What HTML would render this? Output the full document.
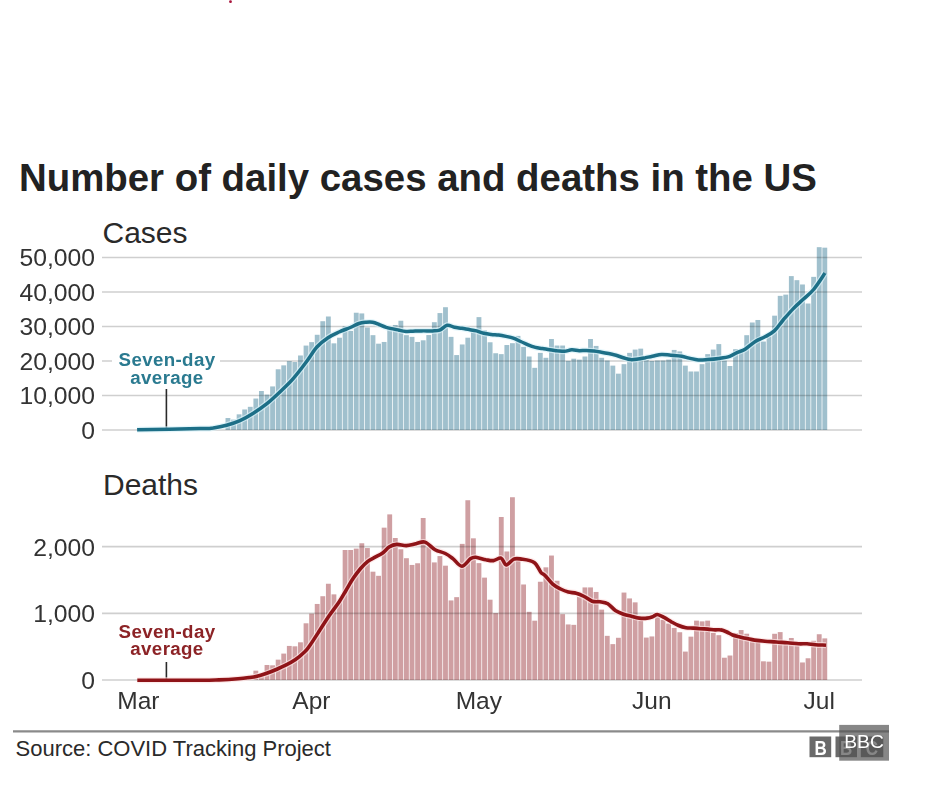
<!DOCTYPE html>
<html><head><meta charset="utf-8">
<style>
html,body{margin:0;padding:0;background:#fff;}
body{width:930px;height:788px;position:relative;overflow:hidden;font-family:"Liberation Sans",sans-serif;color:#222;}
.t{position:absolute;white-space:nowrap;line-height:1;}
#title{left:19px;top:159px;font-size:38.4px;font-weight:bold;color:#222;}
.lab{font-size:30px;color:#2a2a2a;}
.ylab{font-size:24px;color:#333;text-align:right;width:100px;left:-5px;transform:scaleX(1.03);transform-origin:99px 0;}
.xlab{font-size:24.5px;color:#333;text-align:center;width:100px;}
.ann{font-size:18px;font-weight:bold;text-align:center;width:120px;line-height:17.9px;letter-spacing:0.35px;transform:scaleX(1.04);transform-origin:60px 0;}
svg{position:absolute;left:0;top:0;}
#wrap{position:absolute;left:0;top:0;width:930px;height:788px;background:#fff;filter:blur(0.6px);}
</style></head><body><div id="wrap">
<div class="t" id="title">Number of daily cases and deaths in the US</div>
<div class="t lab" style="left:102.5px;top:218px;">Cases</div>
<div class="t lab" style="left:103px;top:470px;">Deaths</div>
<div class="t ylab" style="top:246.4px;">50,000</div>
<div class="t ylab" style="top:280.8px;">40,000</div>
<div class="t ylab" style="top:315.3px;">30,000</div>
<div class="t ylab" style="top:349.8px;">20,000</div>
<div class="t ylab" style="top:384.2px;">10,000</div>
<div class="t ylab" style="top:418.7px;">0</div>
<div class="t ylab" style="top:535.6px;">2,000</div>
<div class="t ylab" style="top:602.2px;">1,000</div>
<div class="t ylab" style="top:669px;">0</div>
<div class="t xlab" style="left:88.4px;top:689px;">Mar</div>
<div class="t xlab" style="left:261.4px;top:689px;">Apr</div>
<div class="t xlab" style="left:428.8px;top:689px;">May</div>
<div class="t xlab" style="left:601.8px;top:689px;">Jun</div>
<div class="t xlab" style="left:769.2px;top:689px;">Jul</div>
<div class="t" style="left:15.5px;top:738px;font-size:22px;color:#2a2a2a;">Source: COVID Tracking Project</div>
<svg width="930" height="788" viewBox="0 0 930 788">
  <circle cx="230.5" cy="1.7" r="1.4" fill="#a8143c"/>
  <g fill="#a0c0cd"><rect x="225.52" y="418.03" width="4.85" height="11.97"/><rect x="231.10" y="419.60" width="4.85" height="10.40"/><rect x="236.68" y="414.34" width="4.85" height="15.66"/><rect x="242.26" y="409.47" width="4.85" height="20.53"/><rect x="247.83" y="406.82" width="4.85" height="23.18"/><rect x="253.41" y="398.54" width="4.85" height="31.46"/><rect x="258.99" y="391.01" width="4.85" height="38.98"/><rect x="264.57" y="394.57" width="4.85" height="35.43"/><rect x="270.15" y="386.43" width="4.85" height="43.57"/><rect x="275.72" y="369.28" width="4.85" height="60.72"/><rect x="281.30" y="365.35" width="4.85" height="64.65"/><rect x="286.88" y="361.14" width="4.85" height="68.86"/><rect x="292.46" y="362.03" width="4.85" height="67.97"/><rect x="298.04" y="355.48" width="4.85" height="74.52"/><rect x="303.61" y="345.58" width="4.85" height="84.42"/><rect x="309.19" y="342.13" width="4.85" height="87.87"/><rect x="314.77" y="334.78" width="4.85" height="95.22"/><rect x="320.35" y="321.22" width="4.85" height="108.78"/><rect x="325.93" y="316.50" width="4.85" height="113.50"/><rect x="331.50" y="343.34" width="4.85" height="86.66"/><rect x="337.08" y="337.71" width="4.85" height="92.29"/><rect x="342.66" y="326.33" width="4.85" height="103.67"/><rect x="348.24" y="330.92" width="4.85" height="99.08"/><rect x="353.82" y="312.73" width="4.85" height="117.27"/><rect x="359.39" y="313.42" width="4.85" height="116.58"/><rect x="364.97" y="327.53" width="4.85" height="102.47"/><rect x="370.55" y="335.16" width="4.85" height="94.84"/><rect x="376.13" y="343.68" width="4.85" height="86.32"/><rect x="381.71" y="341.96" width="4.85" height="88.04"/><rect x="387.29" y="329.23" width="4.85" height="100.77"/><rect x="392.86" y="324.98" width="4.85" height="105.02"/><rect x="398.44" y="320.74" width="4.85" height="109.26"/><rect x="404.02" y="335.16" width="4.85" height="94.84"/><rect x="409.60" y="336.85" width="4.85" height="93.15"/><rect x="415.18" y="341.96" width="4.85" height="88.04"/><rect x="420.75" y="340.30" width="4.85" height="89.70"/><rect x="426.33" y="335.06" width="4.85" height="94.94"/><rect x="431.91" y="322.19" width="4.85" height="107.81"/><rect x="437.49" y="313.08" width="4.85" height="116.92"/><rect x="443.06" y="307.21" width="4.85" height="122.79"/><rect x="448.64" y="336.85" width="4.85" height="93.15"/><rect x="454.22" y="355.07" width="4.85" height="74.93"/><rect x="459.80" y="344.47" width="4.85" height="85.53"/><rect x="465.38" y="337.71" width="4.85" height="92.29"/><rect x="470.95" y="332.26" width="4.85" height="97.74"/><rect x="476.53" y="317.12" width="4.85" height="112.88"/><rect x="482.11" y="330.40" width="4.85" height="99.60"/><rect x="487.69" y="342.27" width="4.85" height="87.73"/><rect x="493.27" y="353.24" width="4.85" height="76.76"/><rect x="498.84" y="354.13" width="4.85" height="75.87"/><rect x="504.42" y="345.03" width="4.85" height="84.97"/><rect x="510.00" y="343.20" width="4.85" height="86.80"/><rect x="515.58" y="335.88" width="4.85" height="94.12"/><rect x="521.16" y="346.86" width="4.85" height="83.15"/><rect x="526.74" y="356.51" width="4.85" height="73.48"/><rect x="532.31" y="367.83" width="4.85" height="62.17"/><rect x="537.89" y="352.86" width="4.85" height="77.14"/><rect x="543.47" y="357.79" width="4.85" height="72.21"/><rect x="549.05" y="338.99" width="4.85" height="91.01"/><rect x="554.62" y="345.54" width="4.85" height="84.46"/><rect x="560.20" y="345.54" width="4.85" height="84.46"/><rect x="565.78" y="360.90" width="4.85" height="69.10"/><rect x="571.36" y="358.69" width="4.85" height="71.31"/><rect x="576.94" y="359.62" width="4.85" height="70.38"/><rect x="582.52" y="356.51" width="4.85" height="73.48"/><rect x="588.09" y="338.99" width="4.85" height="91.01"/><rect x="593.67" y="345.92" width="4.85" height="84.08"/><rect x="599.25" y="357.79" width="4.85" height="72.21"/><rect x="604.83" y="360.52" width="4.85" height="69.48"/><rect x="610.41" y="365.62" width="4.85" height="64.38"/><rect x="615.98" y="373.66" width="4.85" height="56.34"/><rect x="621.56" y="364.17" width="4.85" height="65.83"/><rect x="627.14" y="352.86" width="4.85" height="77.14"/><rect x="632.72" y="349.58" width="4.85" height="80.42"/><rect x="638.30" y="348.65" width="4.85" height="81.35"/><rect x="643.87" y="360.07" width="4.85" height="69.93"/><rect x="649.45" y="361.00" width="4.85" height="69.00"/><rect x="655.03" y="360.52" width="4.85" height="69.48"/><rect x="660.61" y="360.52" width="4.85" height="69.48"/><rect x="666.19" y="359.62" width="4.85" height="70.38"/><rect x="671.76" y="349.93" width="4.85" height="80.07"/><rect x="677.34" y="351.41" width="4.85" height="78.59"/><rect x="682.92" y="365.62" width="4.85" height="64.38"/><rect x="688.50" y="371.49" width="4.85" height="58.51"/><rect x="694.08" y="371.49" width="4.85" height="58.51"/><rect x="699.65" y="364.17" width="4.85" height="65.83"/><rect x="705.23" y="354.13" width="4.85" height="75.87"/><rect x="710.81" y="349.58" width="4.85" height="80.42"/><rect x="716.39" y="344.10" width="4.85" height="85.91"/><rect x="721.97" y="360.52" width="4.85" height="69.48"/><rect x="727.54" y="366.00" width="4.85" height="64.00"/><rect x="733.12" y="349.20" width="4.85" height="80.80"/><rect x="738.70" y="351.69" width="4.85" height="78.31"/><rect x="744.28" y="335.19" width="4.85" height="94.81"/><rect x="749.86" y="322.50" width="4.85" height="107.50"/><rect x="755.43" y="319.98" width="4.85" height="110.02"/><rect x="761.01" y="341.54" width="4.85" height="88.46"/><rect x="766.59" y="336.47" width="4.85" height="93.53"/><rect x="772.17" y="315.67" width="4.85" height="114.33"/><rect x="777.75" y="295.86" width="4.85" height="134.14"/><rect x="783.32" y="294.62" width="4.85" height="135.38"/><rect x="788.90" y="276.10" width="4.85" height="153.90"/><rect x="794.48" y="280.17" width="4.85" height="149.83"/><rect x="800.06" y="284.48" width="4.85" height="145.52"/><rect x="805.63" y="303.52" width="4.85" height="126.48"/><rect x="811.21" y="276.85" width="4.85" height="153.15"/><rect x="816.79" y="247.18" width="4.85" height="182.82"/><rect x="822.37" y="247.67" width="4.85" height="182.33"/></g>
  <g fill="#cf9fa2"><rect x="219.94" y="679.33" width="4.85" height="0.67"/><rect x="225.52" y="679.00" width="4.85" height="1.00"/><rect x="231.10" y="678.67" width="4.85" height="1.33"/><rect x="236.68" y="678.00" width="4.85" height="2.00"/><rect x="242.26" y="677.33" width="4.85" height="2.67"/><rect x="247.83" y="676.66" width="4.85" height="3.34"/><rect x="253.41" y="670.66" width="4.85" height="9.34"/><rect x="258.99" y="675.60" width="4.85" height="4.40"/><rect x="264.57" y="664.99" width="4.85" height="15.01"/><rect x="270.15" y="665.33" width="4.85" height="14.67"/><rect x="275.72" y="659.66" width="4.85" height="20.34"/><rect x="281.30" y="653.59" width="4.85" height="26.41"/><rect x="286.88" y="645.92" width="4.85" height="34.08"/><rect x="292.46" y="646.32" width="4.85" height="33.68"/><rect x="298.04" y="642.31" width="4.85" height="37.69"/><rect x="303.61" y="623.30" width="4.85" height="56.70"/><rect x="309.19" y="613.63" width="4.85" height="66.37"/><rect x="314.77" y="603.96" width="4.85" height="76.04"/><rect x="320.35" y="596.22" width="4.85" height="83.78"/><rect x="325.93" y="583.75" width="4.85" height="96.25"/><rect x="331.50" y="594.36" width="4.85" height="85.64"/><rect x="337.08" y="601.09" width="4.85" height="78.91"/><rect x="342.66" y="550.00" width="4.85" height="130.00"/><rect x="348.24" y="550.00" width="4.85" height="130.00"/><rect x="353.82" y="548.60" width="4.85" height="131.40"/><rect x="359.39" y="543.26" width="4.85" height="136.73"/><rect x="364.97" y="548.07" width="4.85" height="131.93"/><rect x="370.55" y="571.68" width="4.85" height="108.32"/><rect x="376.13" y="575.81" width="4.85" height="104.19"/><rect x="381.71" y="527.66" width="4.85" height="152.34"/><rect x="387.29" y="514.38" width="4.85" height="165.62"/><rect x="392.86" y="538.00" width="4.85" height="142.00"/><rect x="398.44" y="549.27" width="4.85" height="130.73"/><rect x="404.02" y="558.21" width="4.85" height="121.79"/><rect x="409.60" y="564.94" width="4.85" height="115.06"/><rect x="415.18" y="563.27" width="4.85" height="116.73"/><rect x="420.75" y="517.99" width="4.85" height="162.01"/><rect x="426.33" y="547.27" width="4.85" height="132.73"/><rect x="431.91" y="562.41" width="4.85" height="117.59"/><rect x="437.49" y="556.07" width="4.85" height="123.93"/><rect x="443.06" y="565.68" width="4.85" height="114.32"/><rect x="448.64" y="600.43" width="4.85" height="79.57"/><rect x="454.22" y="597.16" width="4.85" height="82.84"/><rect x="459.80" y="543.87" width="4.85" height="136.13"/><rect x="465.38" y="500.24" width="4.85" height="179.76"/><rect x="470.95" y="538.33" width="4.85" height="141.67"/><rect x="476.53" y="563.14" width="4.85" height="116.86"/><rect x="482.11" y="577.62" width="4.85" height="102.38"/><rect x="487.69" y="599.69" width="4.85" height="80.31"/><rect x="493.27" y="613.10" width="4.85" height="66.90"/><rect x="498.84" y="516.99" width="4.85" height="163.01"/><rect x="504.42" y="551.47" width="4.85" height="128.53"/><rect x="510.00" y="497.24" width="4.85" height="182.76"/><rect x="515.58" y="557.34" width="4.85" height="122.66"/><rect x="521.16" y="584.49" width="4.85" height="95.51"/><rect x="526.74" y="611.83" width="4.85" height="68.17"/><rect x="532.31" y="620.70" width="4.85" height="59.30"/><rect x="537.89" y="581.75" width="4.85" height="98.25"/><rect x="543.47" y="567.34" width="4.85" height="112.66"/><rect x="549.05" y="555.54" width="4.85" height="124.46"/><rect x="554.62" y="580.75" width="4.85" height="99.25"/><rect x="560.20" y="614.17" width="4.85" height="65.83"/><rect x="565.78" y="624.44" width="4.85" height="55.56"/><rect x="571.36" y="624.84" width="4.85" height="55.16"/><rect x="576.94" y="596.89" width="4.85" height="83.11"/><rect x="582.52" y="587.42" width="4.85" height="92.58"/><rect x="588.09" y="587.42" width="4.85" height="92.58"/><rect x="593.67" y="591.96" width="4.85" height="88.04"/><rect x="599.25" y="609.63" width="4.85" height="70.37"/><rect x="604.83" y="635.84" width="4.85" height="44.16"/><rect x="610.41" y="644.12" width="4.85" height="35.88"/><rect x="615.98" y="637.78" width="4.85" height="42.22"/><rect x="621.56" y="592.56" width="4.85" height="87.44"/><rect x="627.14" y="598.43" width="4.85" height="81.57"/><rect x="632.72" y="602.36" width="4.85" height="77.64"/><rect x="638.30" y="620.50" width="4.85" height="59.50"/><rect x="643.87" y="637.58" width="4.85" height="42.42"/><rect x="649.45" y="636.44" width="4.85" height="43.56"/><rect x="655.03" y="616.30" width="4.85" height="63.70"/><rect x="660.61" y="619.90" width="4.85" height="60.10"/><rect x="666.19" y="623.57" width="4.85" height="56.43"/><rect x="671.76" y="627.91" width="4.85" height="52.09"/><rect x="677.34" y="632.24" width="4.85" height="47.76"/><rect x="682.92" y="651.59" width="4.85" height="28.41"/><rect x="688.50" y="636.64" width="4.85" height="43.36"/><rect x="694.08" y="620.64" width="4.85" height="59.36"/><rect x="699.65" y="621.37" width="4.85" height="58.63"/><rect x="705.23" y="620.64" width="4.85" height="59.36"/><rect x="710.81" y="632.98" width="4.85" height="47.02"/><rect x="716.39" y="635.18" width="4.85" height="44.82"/><rect x="721.97" y="657.72" width="4.85" height="22.28"/><rect x="727.54" y="655.52" width="4.85" height="24.48"/><rect x="733.12" y="632.98" width="4.85" height="47.02"/><rect x="738.70" y="630.04" width="4.85" height="49.96"/><rect x="744.28" y="633.71" width="4.85" height="46.29"/><rect x="749.86" y="639.78" width="4.85" height="40.22"/><rect x="755.43" y="641.58" width="4.85" height="38.42"/><rect x="761.01" y="661.32" width="4.85" height="18.68"/><rect x="766.59" y="661.66" width="4.85" height="18.34"/><rect x="772.17" y="633.78" width="4.85" height="46.22"/><rect x="777.75" y="632.11" width="4.85" height="47.89"/><rect x="783.32" y="641.58" width="4.85" height="38.42"/><rect x="788.90" y="637.98" width="4.85" height="42.02"/><rect x="794.48" y="643.25" width="4.85" height="36.75"/><rect x="800.06" y="662.46" width="4.85" height="17.54"/><rect x="805.63" y="658.26" width="4.85" height="21.74"/><rect x="811.21" y="640.78" width="4.85" height="39.22"/><rect x="816.79" y="634.24" width="4.85" height="45.76"/><rect x="822.37" y="638.38" width="4.85" height="41.62"/></g>
  <g stroke="#cfcfcf" stroke-width="1.7" style="mix-blend-mode:multiply"><line x1="102" x2="862" y1="430.00" y2="430.00"/><line x1="102" x2="862" y1="395.50" y2="395.50"/><line x1="102" x2="862" y1="361.00" y2="361.00"/><line x1="102" x2="862" y1="326.50" y2="326.50"/><line x1="102" x2="862" y1="292.00" y2="292.00"/><line x1="102" x2="862" y1="257.50" y2="257.50"/><line x1="102" x2="862" y1="680.00" y2="680.00"/><line x1="102" x2="862" y1="613.30" y2="613.30"/><line x1="102" x2="862" y1="546.60" y2="546.60"/></g>
  <rect x="112" y="352" width="108" height="36" fill="#fff"/>
  <rect x="112" y="618" width="108" height="40" fill="#fff"/>
  <line x1="166.4" x2="166.4" y1="389" y2="430" stroke="#2a2a2a" stroke-width="1.6"/>
  <line x1="166.4" x2="166.4" y1="662" y2="680" stroke="#2a2a2a" stroke-width="1.6"/>
  <path d="M137.1,429.8 C147.6,429.6 187.3,428.9 200.0,428.6 C212.7,428.3 208.9,428.5 213.3,427.9 C217.7,427.3 222.2,426.4 226.6,425.2 C231.0,424.0 235.6,422.6 240.0,420.6 C244.4,418.6 248.9,416.0 253.3,413.2 C257.7,410.4 262.2,407.4 266.6,403.9 C271.0,400.3 275.5,396.1 279.9,391.9 C284.3,387.7 288.8,383.7 293.2,378.6 C297.6,373.5 302.7,366.8 306.6,361.5 C310.6,356.2 313.3,351.0 316.9,347.0 C320.5,343.0 324.3,340.2 328.0,337.7 C331.7,335.2 335.4,333.7 339.1,332.0 C342.8,330.3 347.0,328.9 350.3,327.5 C353.6,326.1 356.3,324.4 358.9,323.5 C361.5,322.6 363.7,322.5 366.0,322.3 C368.3,322.1 370.4,321.9 372.6,322.3 C374.8,322.7 376.7,323.6 379.0,324.5 C381.3,325.4 382.9,326.4 386.3,327.4 C389.7,328.3 395.8,329.5 399.1,330.2 C402.4,330.9 403.7,331.2 406.0,331.4 C408.3,331.6 410.3,331.3 412.9,331.2 C415.5,331.1 418.1,330.9 421.4,330.9 C424.6,330.8 429.3,331.0 432.4,330.9 C435.4,330.8 437.2,331.0 439.7,330.1 C442.1,329.2 444.7,325.8 447.1,325.3 C449.6,324.8 451.9,326.7 454.4,327.2 C456.8,327.7 459.3,327.9 461.8,328.3 C464.3,328.7 466.8,329.2 469.2,329.6 C471.6,330.0 474.1,330.3 476.5,330.9 C478.9,331.5 481.4,332.7 483.9,333.3 C486.4,333.9 488.9,334.2 491.3,334.5 C493.8,334.8 496.2,334.8 498.6,335.1 C501.1,335.4 503.6,335.9 506.0,336.4 C508.4,336.9 510.8,337.3 513.3,338.2 C515.8,339.1 518.2,340.4 520.7,341.5 C523.2,342.6 525.7,343.9 528.1,344.9 C530.5,345.9 533.0,346.8 535.4,347.4 C537.8,348.0 540.0,348.1 542.4,348.5 C544.8,348.9 547.2,349.4 549.7,349.8 C552.2,350.2 554.7,350.4 557.1,350.7 C559.5,350.9 562.0,351.4 564.4,351.3 C566.8,351.2 569.3,349.9 571.8,349.8 C574.3,349.7 576.8,350.6 579.2,350.7 C581.7,350.8 584.0,350.3 586.5,350.4 C589.0,350.5 591.4,350.8 593.9,351.1 C596.4,351.4 598.8,351.8 601.3,352.2 C603.8,352.6 606.1,353.0 608.6,353.5 C611.1,354.0 613.5,354.6 616.0,355.3 C618.5,356.0 620.8,357.0 623.3,357.7 C625.8,358.4 628.2,359.4 630.7,359.6 C633.2,359.8 635.7,359.3 638.1,359.0 C640.5,358.7 643.0,358.1 645.4,357.7 C647.8,357.2 649.7,356.9 652.4,356.3 C655.1,355.8 658.5,354.6 661.6,354.4 C664.7,354.2 667.4,355.0 670.8,355.3 C674.2,355.6 678.7,355.8 681.8,356.3 C684.9,356.8 686.4,357.5 689.2,358.1 C692.0,358.7 695.3,359.6 698.4,359.9 C701.5,360.1 704.2,359.8 707.6,359.6 C711.0,359.4 714.9,359.1 718.6,358.5 C722.3,357.9 726.6,357.3 729.7,356.3 C732.8,355.3 734.4,353.8 737.0,352.6 C739.6,351.4 742.1,351.1 745.1,349.2 C748.1,347.3 751.9,343.6 755.3,341.5 C758.7,339.4 762.2,338.3 765.4,336.5 C768.6,334.7 771.3,333.6 774.3,330.9 C777.3,328.1 780.0,323.7 783.2,320.0 C786.4,316.3 789.9,312.1 793.3,308.6 C796.7,305.1 800.1,302.2 803.5,299.0 C806.9,295.8 810.0,293.8 813.6,289.5 C817.2,285.2 823.1,275.8 825.0,273.1" fill="none" stroke="#d8f2fa" stroke-width="6" opacity="0.7" stroke-linecap="butt" stroke-linejoin="round"/>
  <path d="M137.1,429.8 C147.6,429.6 187.3,428.9 200.0,428.6 C212.7,428.3 208.9,428.5 213.3,427.9 C217.7,427.3 222.2,426.4 226.6,425.2 C231.0,424.0 235.6,422.6 240.0,420.6 C244.4,418.6 248.9,416.0 253.3,413.2 C257.7,410.4 262.2,407.4 266.6,403.9 C271.0,400.3 275.5,396.1 279.9,391.9 C284.3,387.7 288.8,383.7 293.2,378.6 C297.6,373.5 302.7,366.8 306.6,361.5 C310.6,356.2 313.3,351.0 316.9,347.0 C320.5,343.0 324.3,340.2 328.0,337.7 C331.7,335.2 335.4,333.7 339.1,332.0 C342.8,330.3 347.0,328.9 350.3,327.5 C353.6,326.1 356.3,324.4 358.9,323.5 C361.5,322.6 363.7,322.5 366.0,322.3 C368.3,322.1 370.4,321.9 372.6,322.3 C374.8,322.7 376.7,323.6 379.0,324.5 C381.3,325.4 382.9,326.4 386.3,327.4 C389.7,328.3 395.8,329.5 399.1,330.2 C402.4,330.9 403.7,331.2 406.0,331.4 C408.3,331.6 410.3,331.3 412.9,331.2 C415.5,331.1 418.1,330.9 421.4,330.9 C424.6,330.8 429.3,331.0 432.4,330.9 C435.4,330.8 437.2,331.0 439.7,330.1 C442.1,329.2 444.7,325.8 447.1,325.3 C449.6,324.8 451.9,326.7 454.4,327.2 C456.8,327.7 459.3,327.9 461.8,328.3 C464.3,328.7 466.8,329.2 469.2,329.6 C471.6,330.0 474.1,330.3 476.5,330.9 C478.9,331.5 481.4,332.7 483.9,333.3 C486.4,333.9 488.9,334.2 491.3,334.5 C493.8,334.8 496.2,334.8 498.6,335.1 C501.1,335.4 503.6,335.9 506.0,336.4 C508.4,336.9 510.8,337.3 513.3,338.2 C515.8,339.1 518.2,340.4 520.7,341.5 C523.2,342.6 525.7,343.9 528.1,344.9 C530.5,345.9 533.0,346.8 535.4,347.4 C537.8,348.0 540.0,348.1 542.4,348.5 C544.8,348.9 547.2,349.4 549.7,349.8 C552.2,350.2 554.7,350.4 557.1,350.7 C559.5,350.9 562.0,351.4 564.4,351.3 C566.8,351.2 569.3,349.9 571.8,349.8 C574.3,349.7 576.8,350.6 579.2,350.7 C581.7,350.8 584.0,350.3 586.5,350.4 C589.0,350.5 591.4,350.8 593.9,351.1 C596.4,351.4 598.8,351.8 601.3,352.2 C603.8,352.6 606.1,353.0 608.6,353.5 C611.1,354.0 613.5,354.6 616.0,355.3 C618.5,356.0 620.8,357.0 623.3,357.7 C625.8,358.4 628.2,359.4 630.7,359.6 C633.2,359.8 635.7,359.3 638.1,359.0 C640.5,358.7 643.0,358.1 645.4,357.7 C647.8,357.2 649.7,356.9 652.4,356.3 C655.1,355.8 658.5,354.6 661.6,354.4 C664.7,354.2 667.4,355.0 670.8,355.3 C674.2,355.6 678.7,355.8 681.8,356.3 C684.9,356.8 686.4,357.5 689.2,358.1 C692.0,358.7 695.3,359.6 698.4,359.9 C701.5,360.1 704.2,359.8 707.6,359.6 C711.0,359.4 714.9,359.1 718.6,358.5 C722.3,357.9 726.6,357.3 729.7,356.3 C732.8,355.3 734.4,353.8 737.0,352.6 C739.6,351.4 742.1,351.1 745.1,349.2 C748.1,347.3 751.9,343.6 755.3,341.5 C758.7,339.4 762.2,338.3 765.4,336.5 C768.6,334.7 771.3,333.6 774.3,330.9 C777.3,328.1 780.0,323.7 783.2,320.0 C786.4,316.3 789.9,312.1 793.3,308.6 C796.7,305.1 800.1,302.2 803.5,299.0 C806.9,295.8 810.0,293.8 813.6,289.5 C817.2,285.2 823.1,275.8 825.0,273.1" fill="none" stroke="#1d6f87" stroke-width="3.5" stroke-linecap="butt" stroke-linejoin="round"/>
  <path d="M137.3,680.2 C147.8,680.2 186.4,680.2 200.0,680.2 C213.6,680.2 212.7,680.1 219.0,679.9 C225.3,679.6 233.0,679.1 238.1,678.7 C243.2,678.3 246.3,677.9 249.5,677.5 C252.7,677.1 254.2,676.9 257.1,676.2 C260.0,675.5 263.5,674.4 266.7,673.3 C269.9,672.2 273.0,670.9 276.2,669.5 C279.4,668.1 282.5,666.8 285.7,665.2 C288.9,663.6 292.0,662.0 295.2,659.8 C298.4,657.6 302.3,654.2 304.8,651.8 C307.3,649.4 307.5,648.8 310.0,645.2 C312.5,641.7 316.4,635.5 319.6,630.5 C322.8,625.5 326.1,620.2 329.3,615.5 C332.5,610.8 336.1,606.4 338.9,602.2 C341.7,598.0 343.7,594.2 346.1,590.2 C348.5,586.2 351.0,581.7 353.4,578.1 C355.8,574.5 358.2,571.3 360.6,568.5 C363.0,565.7 365.4,563.2 367.8,561.3 C370.2,559.4 372.7,558.5 375.1,557.2 C377.5,555.9 379.9,555.0 382.3,553.3 C384.7,551.6 387.1,548.3 389.5,546.8 C391.9,545.3 393.9,544.6 396.7,544.4 C399.5,544.2 403.2,545.7 406.4,545.6 C409.6,545.5 412.9,544.3 416.0,543.7 C419.1,543.1 421.8,541.1 425.0,542.1 C428.2,543.1 431.7,547.8 435.1,549.7 C438.5,551.6 442.3,552.0 445.3,553.5 C448.3,555.0 450.1,556.5 452.9,558.6 C455.6,560.7 458.8,566.2 461.8,566.2 C464.8,566.2 468.4,560.1 470.7,558.6 C473.0,557.1 473.2,557.1 475.7,557.3 C478.2,557.5 482.9,559.2 485.9,559.8 C488.9,560.3 491.0,560.9 493.5,560.6 C496.0,560.3 499.0,557.4 501.1,558.1 C503.2,558.8 504.1,564.7 506.2,564.9 C508.3,565.1 511.3,560.1 513.8,559.1 C516.3,558.1 518.0,558.6 521.4,559.1 C524.8,559.6 530.9,560.2 534.1,562.4 C537.4,564.6 539.1,570.2 540.9,572.3 C542.7,574.4 542.8,573.2 544.8,575.2 C546.8,577.2 550.1,581.8 552.7,584.1 C555.3,586.4 558.0,587.7 560.6,589.0 C563.2,590.3 565.8,591.3 568.4,592.0 C571.0,592.7 573.7,592.5 576.3,593.3 C578.9,594.0 581.6,595.2 584.2,596.5 C586.8,597.8 589.5,600.3 592.1,601.2 C594.7,602.1 597.3,601.4 599.9,601.8 C602.5,602.2 605.2,602.3 607.8,603.8 C610.4,605.3 613.1,609.0 615.7,610.7 C618.3,612.4 620.9,613.3 623.5,614.2 C626.1,615.1 628.8,615.6 631.4,616.2 C634.0,616.9 636.7,617.8 639.3,618.1 C641.9,618.4 644.8,618.4 647.1,618.1 C649.4,617.9 651.3,617.2 653.0,616.6 C654.7,616.0 655.6,614.4 657.4,614.5 C659.2,614.6 661.7,616.2 664.0,617.4 C666.3,618.6 668.9,620.4 671.3,621.8 C673.7,623.1 676.2,624.5 678.6,625.5 C681.0,626.5 683.5,627.3 685.9,627.7 C688.3,628.1 690.8,627.9 693.2,628.1 C695.6,628.3 698.1,628.5 700.5,628.7 C702.9,628.9 705.4,628.9 707.8,629.1 C710.2,629.3 712.9,629.8 715.1,629.9 C717.3,630.0 719.0,629.5 720.9,629.9 C722.8,630.2 724.8,631.1 726.8,632.0 C728.8,632.9 730.4,634.2 732.6,635.0 C734.8,635.8 737.5,636.3 739.9,636.9 C742.3,637.5 744.8,638.1 747.2,638.6 C749.6,639.1 751.5,639.7 754.5,640.1 C757.5,640.5 761.4,640.9 765.0,641.2 C768.6,641.5 772.5,641.7 776.3,642.0 C780.0,642.3 783.8,642.5 787.5,642.8 C791.2,643.1 795.4,643.6 798.7,643.8 C802.0,644.0 804.3,643.6 807.1,643.8 C809.9,644.0 812.4,644.6 815.5,644.8 C818.6,645.0 824.2,645.1 826.0,645.2" fill="none" stroke="#fde3e3" stroke-width="6" opacity="0.7" stroke-linecap="butt" stroke-linejoin="round"/>
  <path d="M137.3,680.2 C147.8,680.2 186.4,680.2 200.0,680.2 C213.6,680.2 212.7,680.1 219.0,679.9 C225.3,679.6 233.0,679.1 238.1,678.7 C243.2,678.3 246.3,677.9 249.5,677.5 C252.7,677.1 254.2,676.9 257.1,676.2 C260.0,675.5 263.5,674.4 266.7,673.3 C269.9,672.2 273.0,670.9 276.2,669.5 C279.4,668.1 282.5,666.8 285.7,665.2 C288.9,663.6 292.0,662.0 295.2,659.8 C298.4,657.6 302.3,654.2 304.8,651.8 C307.3,649.4 307.5,648.8 310.0,645.2 C312.5,641.7 316.4,635.5 319.6,630.5 C322.8,625.5 326.1,620.2 329.3,615.5 C332.5,610.8 336.1,606.4 338.9,602.2 C341.7,598.0 343.7,594.2 346.1,590.2 C348.5,586.2 351.0,581.7 353.4,578.1 C355.8,574.5 358.2,571.3 360.6,568.5 C363.0,565.7 365.4,563.2 367.8,561.3 C370.2,559.4 372.7,558.5 375.1,557.2 C377.5,555.9 379.9,555.0 382.3,553.3 C384.7,551.6 387.1,548.3 389.5,546.8 C391.9,545.3 393.9,544.6 396.7,544.4 C399.5,544.2 403.2,545.7 406.4,545.6 C409.6,545.5 412.9,544.3 416.0,543.7 C419.1,543.1 421.8,541.1 425.0,542.1 C428.2,543.1 431.7,547.8 435.1,549.7 C438.5,551.6 442.3,552.0 445.3,553.5 C448.3,555.0 450.1,556.5 452.9,558.6 C455.6,560.7 458.8,566.2 461.8,566.2 C464.8,566.2 468.4,560.1 470.7,558.6 C473.0,557.1 473.2,557.1 475.7,557.3 C478.2,557.5 482.9,559.2 485.9,559.8 C488.9,560.3 491.0,560.9 493.5,560.6 C496.0,560.3 499.0,557.4 501.1,558.1 C503.2,558.8 504.1,564.7 506.2,564.9 C508.3,565.1 511.3,560.1 513.8,559.1 C516.3,558.1 518.0,558.6 521.4,559.1 C524.8,559.6 530.9,560.2 534.1,562.4 C537.4,564.6 539.1,570.2 540.9,572.3 C542.7,574.4 542.8,573.2 544.8,575.2 C546.8,577.2 550.1,581.8 552.7,584.1 C555.3,586.4 558.0,587.7 560.6,589.0 C563.2,590.3 565.8,591.3 568.4,592.0 C571.0,592.7 573.7,592.5 576.3,593.3 C578.9,594.0 581.6,595.2 584.2,596.5 C586.8,597.8 589.5,600.3 592.1,601.2 C594.7,602.1 597.3,601.4 599.9,601.8 C602.5,602.2 605.2,602.3 607.8,603.8 C610.4,605.3 613.1,609.0 615.7,610.7 C618.3,612.4 620.9,613.3 623.5,614.2 C626.1,615.1 628.8,615.6 631.4,616.2 C634.0,616.9 636.7,617.8 639.3,618.1 C641.9,618.4 644.8,618.4 647.1,618.1 C649.4,617.9 651.3,617.2 653.0,616.6 C654.7,616.0 655.6,614.4 657.4,614.5 C659.2,614.6 661.7,616.2 664.0,617.4 C666.3,618.6 668.9,620.4 671.3,621.8 C673.7,623.1 676.2,624.5 678.6,625.5 C681.0,626.5 683.5,627.3 685.9,627.7 C688.3,628.1 690.8,627.9 693.2,628.1 C695.6,628.3 698.1,628.5 700.5,628.7 C702.9,628.9 705.4,628.9 707.8,629.1 C710.2,629.3 712.9,629.8 715.1,629.9 C717.3,630.0 719.0,629.5 720.9,629.9 C722.8,630.2 724.8,631.1 726.8,632.0 C728.8,632.9 730.4,634.2 732.6,635.0 C734.8,635.8 737.5,636.3 739.9,636.9 C742.3,637.5 744.8,638.1 747.2,638.6 C749.6,639.1 751.5,639.7 754.5,640.1 C757.5,640.5 761.4,640.9 765.0,641.2 C768.6,641.5 772.5,641.7 776.3,642.0 C780.0,642.3 783.8,642.5 787.5,642.8 C791.2,643.1 795.4,643.6 798.7,643.8 C802.0,644.0 804.3,643.6 807.1,643.8 C809.9,644.0 812.4,644.6 815.5,644.8 C818.6,645.0 824.2,645.1 826.0,645.2" fill="none" stroke="#8f1418" stroke-width="3.6" stroke-linecap="butt" stroke-linejoin="round"/>
  <line x1="13" x2="889" y1="731.4" y2="731.4" stroke="#8a8a8a" stroke-width="2.2"/>
  <g>
    <rect x="809.5" y="736.5" width="21.7" height="20.7" fill="#6a6a6a"/>
    <rect x="835.5" y="736.5" width="21.5" height="20.7" fill="#6a6a6a"/>
    <rect x="860.8" y="736.5" width="22.5" height="20.7" fill="#6a6a6a"/>
    <text x="820.6" y="754.6" font-family="Liberation Sans" font-weight="bold" font-size="20" transform="translate(820.6 0) scale(0.85 1) translate(-820.6 0)" fill="#fff" text-anchor="middle">B</text>
    <text x="846.2" y="754.6" font-family="Liberation Sans" font-weight="bold" font-size="20" transform="translate(846.2 0) scale(0.85 1) translate(-846.2 0)" fill="#fff" text-anchor="middle">B</text>
    <text x="872" y="754.6" font-family="Liberation Sans" font-weight="bold" font-size="20" transform="translate(872 0) scale(0.85 1) translate(-872 0)" fill="#fff" text-anchor="middle">C</text>
    <rect x="839.2" y="724.9" width="49.8" height="35.8" fill="rgba(81,81,81,0.69)"/>
    <text x="864" y="748.3" font-family="Liberation Sans" font-size="18" fill="#fff" text-anchor="middle" transform="translate(864 0) scale(1.07 1) translate(-864 0)">BBC</text>
  </g>
</svg>
<div class="t ann" style="left:106.5px;top:351.8px;color:#2a7a90;">Seven-day<br>average</div>
<div class="t ann" style="left:106.5px;top:623.5px;color:#8c2326;">Seven-day<br>average</div>
</div></body></html>
